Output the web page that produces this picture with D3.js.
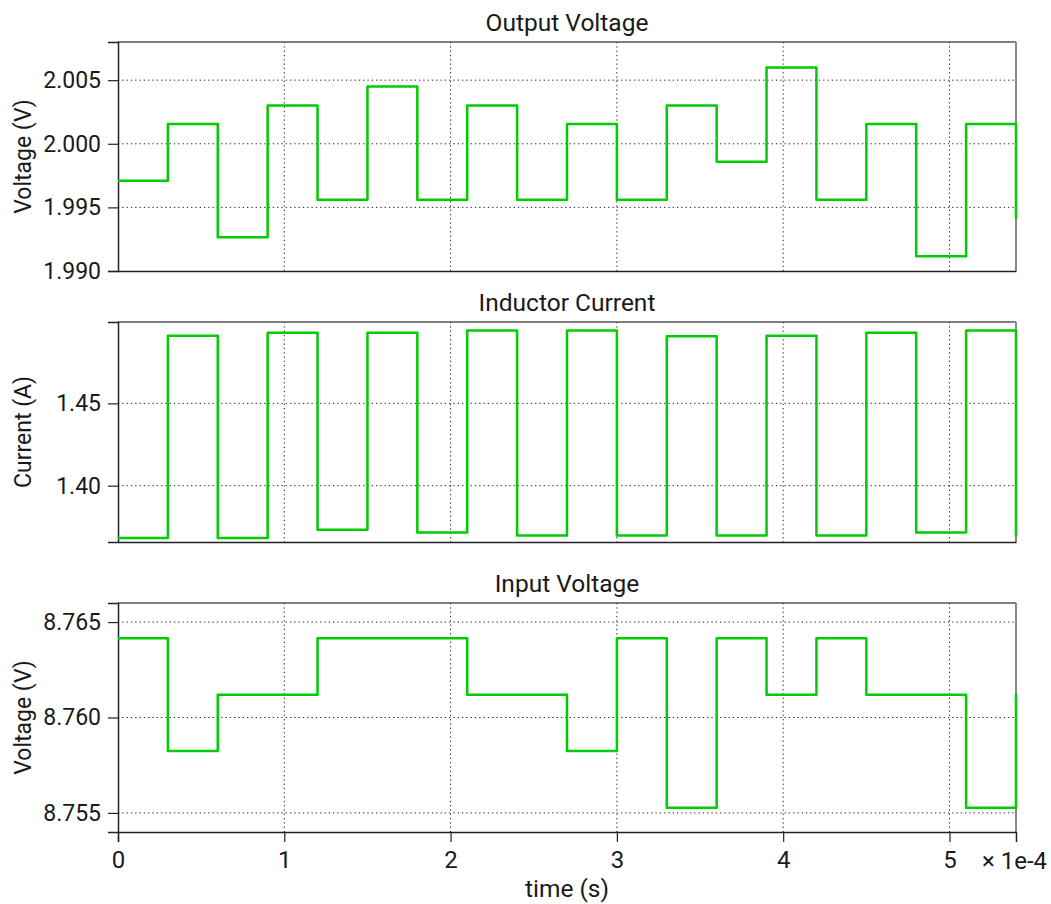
<!DOCTYPE html>
<html>
<head>
<meta charset="utf-8">
<script src="https://cdn.jsdelivr.net/npm/d3@7"></script>
<style>
  body { margin: 0; background: #fff; }
  text { font-family: Roboto, "Noto Sans", sans-serif; fill: #1a1a1a; }
</style>
</head>
<body>
<div id="chart"></div>
<script>
// sample times (s), one value per 30 us step, zero-order hold
const time = [0, 0.3e-4, 0.6e-4, 0.9e-4, 1.2e-4, 1.5e-4, 1.8e-4, 2.1e-4, 2.4e-4, 2.7e-4,
  3.0e-4, 3.3e-4, 3.6e-4, 3.9e-4, 4.2e-4, 4.5e-4, 4.8e-4, 5.1e-4, 5.4e-4];

const outputVoltage = [1.9971, 2.00155, 1.99265, 2.0030, 1.9956, 2.0045, 1.9956, 2.0030, 1.9956, 2.00155,
  1.9956, 2.0030, 1.99859, 2.0060, 1.9956, 2.00155, 1.99116, 2.00155, 1.9941];

const inductorCurrent = [1.3682, 1.4910, 1.3682, 1.4928, 1.3733, 1.4928, 1.3716, 1.4943, 1.3698, 1.4943,
  1.3698, 1.4907, 1.3698, 1.4910, 1.3698, 1.4929, 1.3716, 1.4943, 1.3692];

const inputVoltage = [8.76415, 8.75824, 8.76119, 8.76119, 8.76415, 8.76415, 8.76415, 8.76119, 8.76119, 8.75824,
  8.76415, 8.75527, 8.76415, 8.76119, 8.76415, 8.76119, 8.76119, 8.75527, 8.76124];

const xTicks = [0, 1e-4, 2e-4, 3e-4, 4e-4, 5e-4];

const panels = [
  { title: "Output Voltage", ylabel: "Voltage (V)", values: outputVoltage,
    domain: [1.990, 2.008], ticks: [1.990, 1.995, 2.000, 2.005], fmt: ".3f", top: 42, bottom: 271 },
  { title: "Inductor Current", ylabel: "Current (A)", values: inductorCurrent,
    domain: [1.3658, 1.4994], ticks: [1.40, 1.45], fmt: ".2f", top: 322, bottom: 542 },
  { title: "Input Voltage", ylabel: "Voltage (V)", values: inputVoltage,
    domain: [8.754, 8.766], ticks: [8.755, 8.760, 8.765], fmt: ".3f", top: 603, bottom: 832 }
];

const width = 1051, height = 904;
const left = 118, right = 1016;
const FONT = "Roboto, 'Noto Sans', sans-serif";

const svg = d3.select("#chart").append("svg")
  .attr("width", width)
  .attr("height", height);

const x = d3.scaleLinear().domain([0, 5.4e-4]).range([left, right]);

panels.forEach((p, i) => {
  const y = d3.scaleLinear().domain(p.domain).range([p.bottom, p.top]);
  const g = svg.append("g");

  // grid
  g.selectAll(".hgrid").data(p.ticks.filter(t => y(t) > p.top + 1 && y(t) < p.bottom - 1))
    .enter().append("line")
    .attr("x1", left).attr("x2", right)
    .attr("y1", d => y(d)).attr("y2", d => y(d))
    .attr("stroke", "#222").attr("stroke-width", 1)
    .attr("stroke-dasharray", "1.3,3");
  g.selectAll(".vgrid").data(xTicks.filter(t => t > 0))
    .enter().append("line")
    .attr("x1", d => x(d)).attr("x2", d => x(d))
    .attr("y1", p.top).attr("y2", p.bottom)
    .attr("stroke", "#222").attr("stroke-width", 1)
    .attr("stroke-dasharray", "1.3,3");

  // frame: top/right light, left/bottom dark
  g.append("line").attr("x1", left).attr("x2", right).attr("y1", p.top).attr("y2", p.top)
    .attr("stroke", "#555").attr("stroke-width", 1.5);
  g.append("line").attr("x1", right).attr("x2", right).attr("y1", p.top).attr("y2", p.bottom)
    .attr("stroke", "#888").attr("stroke-width", 2);

  // y axis
  const yAxis = g.append("g")
    .attr("transform", `translate(${left},0)`)
    .call(d3.axisLeft(y).tickValues(p.ticks).tickFormat(d3.format(p.fmt)).tickSize(10).tickPadding(7));
  yAxis.select(".domain").attr("stroke", "#222").attr("stroke-width", 1.5);
  yAxis.selectAll(".tick line").attr("stroke", "#222").attr("stroke-width", 1.2);
  yAxis.selectAll(".tick text").attr("font-size", 23).attr("fill", "#1a1a1a")
    .style("font-family", FONT);

  // x axis (labels only on the last panel)
  const last = i === panels.length - 1;
  const xAxis = g.append("g")
    .attr("transform", `translate(0,${p.bottom})`)
    .call(d3.axisBottom(x).tickValues(xTicks).tickSize(last ? 10 : 0).tickPadding(9)
      .tickFormat(last ? (d => d3.format("d")(Math.round(d * 1e4))) : () => ""));
  xAxis.select(".domain").attr("stroke", "#222").attr("stroke-width", 1.5);
  xAxis.selectAll(".tick line").attr("stroke", "#222").attr("stroke-width", 1.2);
  xAxis.selectAll(".tick text").attr("font-size", 24).attr("fill", "#1a1a1a")
    .style("font-family", FONT);

  // series
  const line = d3.line()
    .x((d, j) => x(time[j]))
    .y(d => y(d))
    .curve(d3.curveStepAfter);
  g.append("path")
    .datum(p.values)
    .attr("d", line)
    .attr("fill", "none")
    .attr("stroke", "#00cc00")
    .attr("stroke-width", 2.5)
    .attr("stroke-linejoin", "round");

  // title
  g.append("text")
    .attr("x", (left + right) / 2)
    .attr("y", p.top - 11)
    .attr("text-anchor", "middle")
    .attr("font-size", 24.5)
    .text(p.title);

  // y label
  g.append("text")
    .attr("transform", `translate(31,${(p.top + p.bottom) / 2}) rotate(-90)`)
    .attr("text-anchor", "middle")
    .attr("font-size", 23)
    .text(p.ylabel);

  if (last) {
    g.append("text")
      .attr("x", 982)
      .attr("y", p.bottom + 37)
      .attr("font-size", 24)
      .text("× 1e-4");
    g.append("text")
      .attr("x", (left + right) / 2)
      .attr("y", p.bottom + 65)
      .attr("text-anchor", "middle")
      .attr("font-size", 24.5)
      .text("time (s)");
  }
});
</script>
</body>
</html>
